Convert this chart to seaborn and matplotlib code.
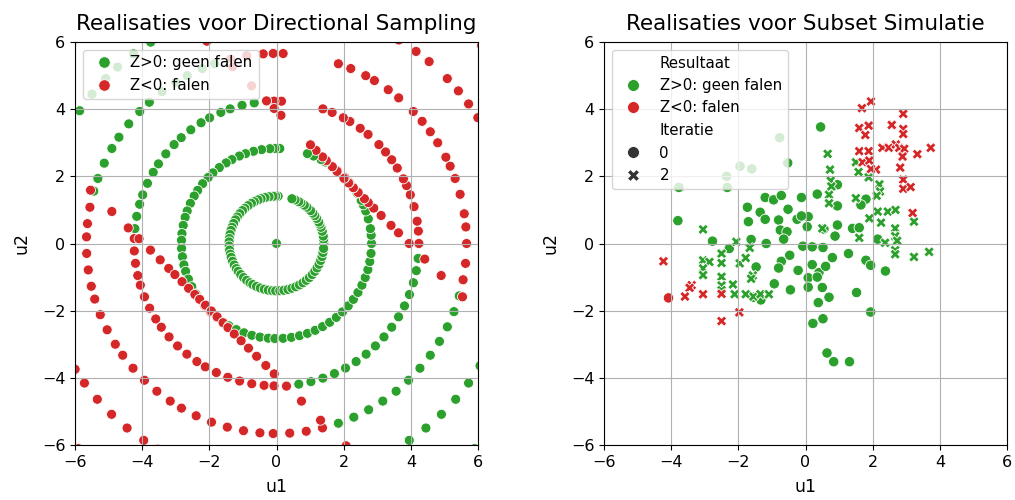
import numpy as np
import pandas as pd
import matplotlib
matplotlib.use("Agg")
import matplotlib.pyplot as plt
import seaborn as sns

# ---------------- Directional Sampling (left) ----------------
# direction angles (degrees) of the sampled directions, read from the rings
ds_richtingen_graden = [0, 5, 9, 15, 20, 24, 27, 32, 36, 40, 44, 50, 54, 59, 62, 67, 71,
                        88, 91, 94, 99, 104, 109, 113, 118, 122, 127, 132, 136, 141, 146,
                        150, 155, 160, 164, 169, 174, 178, 183, 188, 193, 197, 202, 207,
                        212, 216, 221, 226, 231, 236, 240, 245, 250, 255, 260, 265, 269,
                        274, 279, 284, 289, 294, 299, 304, 309, 314, 319, 324, 329, 334,
                        339, 344, 349, 354]
# radii of the evaluation rings along each direction
ds_ringstralen = [1.41, 2.83, 4.24, 5.66, 7.07, 8.49]
# failure boundaries (on u1 + u2)
ds_grens_boven = 3.95
ds_grens_onder = -3.95
ds_oorsprong = [0.0, 0.0]

# ---------------- Subset Simulation (right) ----------------
ss_it0_geen = [(0.45, 3.47), (-0.77, 3.15), (-0.53, 2.4), (-1.95, 2.3), (-1.6, 2.22),
               (-2.35, 2.0), (-2.33, 1.67), (-3.77, 1.67), (-1.2, 1.37), (-0.95, 1.3),
               (-0.72, 1.43), (-3.8, 0.68), (-2.77, 0.07), (-2.27, -0.15), (-1.73, 1.08),
               (-1.35, 0.93), (-1.2, 0.72), (-1.7, 0.65), (-1.62, 0.12), (-1.17, 0.0),
               (-0.52, 1.02), (-0.8, 0.7), (-0.75, 0.4), (-0.55, 0.35), (-0.65, 0.13),
               (-0.25, 0.72), (-0.12, 1.37), (0.08, 0.8), (0.35, 1.47), (0.05, 0.5),
               (0.55, 0.43), (0.95, 1.12), (0.95, 0.55), (0.88, 0.22), (-0.08, -0.08),
               (0.2, -0.1), (0.52, -0.12), (-0.72, -0.53), (-0.47, -0.35), (-0.8, -0.73),
               (-0.22, -0.8), (0.2, -0.63), (0.4, -0.87), (0.6, -0.68), (0.8, -0.42),
               (0.08, -1.02), (0.08, -1.3), (0.35, -1.0), (0.5, -1.31), (-0.93, -1.2),
               (-0.45, -1.38), (0.7, -1.6), (0.38, -1.76), (0.22, -2.38), (0.52, -2.24),
               (0.64, -3.26), (0.84, -3.52), (1.31, -3.52), (1.28, -0.3), (1.52, -1.46),
               (1.8, -0.5), (1.94, -0.65), (2.38, -0.82), (1.94, -2.04), (1.4, 0.45),
               (1.6, 0.47), (0.95, 1.75), (1.8, 1.32), (1.65, 1.15), (2.15, 0.13),
               (-1.47, -0.7), (-1.55, -1.6), (-1.33, -1.68), (-0.12, 0.82)]
ss_it0_falen = [(-4.08, -1.62)]
ss_it2_geen = [(0.66, 2.67), (0.73, 2.2), (0.75, 1.87), (0.77, 1.7), (0.7, 1.45),
               (0.7, 1.2), (1.5, 1.35), (1.5, 2.42), (1.58, 2.13), (1.88, 1.97),
               (2.2, 1.76), (2.22, 1.55), (2.12, 1.42), (2.15, 0.95), (2.45, 0.95),
               (2.68, 1.0), (1.9, 0.75), (2.25, 0.62), (1.6, 0.17), (2.67, 0.45),
               (2.67, 0.22), (2.73, 0.08), (2.37, 0.02), (2.67, -0.2), (2.67, -0.32),
               (3.23, 0.65), (3.23, -0.4), (3.68, -0.25), (0.5, 0.45),
               (-3.05, 0.42), (-3.05, -0.5), (-2.86, -0.55), (-3.05, -0.74), (-3.05, -0.94),
               (-2.5, -0.3), (-2.5, -0.58), (-2.5, -0.99), (-2.5, -1.25), (-2.5, -1.39),
               (-2.16, -1.22), (-2.11, -1.51), (-2.06, 0.05), (-1.96, -0.59), (-1.78, -0.43),
               (-1.66, -0.13), (-1.57, -0.95), (-1.62, -1.05), (-1.78, -1.51),
               (-1.55, -1.58), (-1.34, -1.51), (-1.09, -1.51)]
ss_it2_falen = [(1.95, 4.23), (1.68, 4.03), (2.91, 3.86), (1.6, 3.44), (1.88, 3.51),
                (1.78, 3.23), (2.57, 3.53), (2.91, 3.41), (2.91, 3.26), (1.6, 2.75),
                (1.88, 2.75), (1.7, 2.42), (1.9, 2.47), (2.1, 2.2), (2.29, 2.85),
                (2.48, 2.85), (2.69, 2.95), (2.79, 2.85), (2.94, 2.82), (3.33, 2.66),
                (3.73, 2.85), (2.89, 2.59), (2.82, 2.26), (2.91, 1.9), (2.91, 1.63),
                (3.13, 1.68), (3.19, 0.91), (1.95, 2.22),
                (-4.23, -0.53), (-3.39, -1.24), (-3.45, -1.32), (-3.59, -1.58),
                (-3.05, -1.51), (-2.5, -1.5), (-2.5, -2.31), (-1.97, -2.05)]

LBL_OK = "Z>0: geen falen"
LBL_F = "Z<0: falen"
kleuren = {LBL_OK: "#2ca02c", LBL_F: "#d62728"}

# ---- build directional sampling table ----
rows = [(ds_oorsprong[0], ds_oorsprong[1], LBL_OK)]
for hoek in ds_richtingen_graden:
    t = np.deg2rad(hoek)
    c, s = np.cos(t), np.sin(t)
    som = c + s
    for r in ds_ringstralen:
        x, y = r * c, r * s
        lab = LBL_F if (x + y > ds_grens_boven or x + y < ds_grens_onder) else LBL_OK
        rows.append((x, y, lab))
    # root point on the failure boundary along this direction
    if som > 1e-6:
        rr = ds_grens_boven / som
    elif som < -1e-6:
        rr = ds_grens_onder / som
    else:
        rr = np.inf
    if rr < 8.5:
        rows.append((rr * c, rr * s, LBL_F))
ds = pd.DataFrame(rows, columns=["u1", "u2", "Resultaat"])

# ---- build subset simulation table ----
ss_rows = []
for grp, lab, it in [(ss_it0_geen, LBL_OK, 0), (ss_it0_falen, LBL_F, 0),
                     (ss_it2_geen, LBL_OK, 2), (ss_it2_falen, LBL_F, 2)]:
    for (x, y) in grp:
        ss_rows.append((x, y, lab, it))
ss = pd.DataFrame(ss_rows, columns=["u1", "u2", "Resultaat", "Iteratie"])

fig = plt.figure(figsize=(10.15, 5.0), dpi=100)
ax1 = fig.add_axes([75 / 1015, 55 / 500, 403 / 1015, 403 / 500])
ax2 = fig.add_axes([604 / 1015, 55 / 500, 403 / 1015, 403 / 500])

sns.scatterplot(data=ds, x="u1", y="u2", hue="Resultaat", hue_order=[LBL_OK, LBL_F],
                palette=kleuren, s=52, ax=ax1)
sns.scatterplot(data=ss, x="u1", y="u2", hue="Resultaat", hue_order=[LBL_OK, LBL_F],
                style="Iteratie", style_order=[0, 2], palette=kleuren, s=56, ax=ax2)

ax1.set_title("Realisaties voor Directional Sampling", fontsize=15.5, pad=9)
ax2.set_title("Realisaties voor Subset Simulatie", fontsize=15.5, pad=9)
for ax in (ax1, ax2):
    ax.set_xlim(-6, 6)
    ax.set_ylim(-6, 6)
    ax.set_xticks(np.arange(-6, 7, 2))
    ax.set_yticks(np.arange(-6, 7, 2))
    ax.grid(True)
    ax.set_xlabel("u1", fontsize=12.5, labelpad=6)
    ax.set_ylabel("u2", fontsize=12.5, labelpad=8)
    ax.tick_params(labelsize=11.5)

leg1 = ax1.legend(loc="upper left", fontsize=10.8, markerscale=1.15)
leg1.set_title(None)
sns.move_legend(ax2, "upper left", fontsize=10.8, markerscale=1.15)

fig.savefig("out.png", dpi=100)
